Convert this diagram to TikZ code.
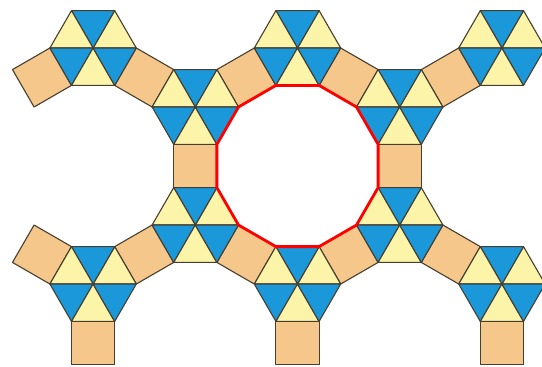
\documentclass[tikz,border=0pt]{standalone}
\usepackage{xcolor}
\usepackage{tikz}
\usetikzlibrary{calc}

\definecolor{triblue}{HTML}{1B98DA}
\definecolor{triyellow}{HTML}{FCF4A8}
\definecolor{sqtan}{HTML}{F6C78A}
\definecolor{edgegray}{HTML}{463F30}

\begin{document}
\begin{tikzpicture}[
    x=43.2pt, y=43.2pt,
    tile/.style      = {draw=edgegray, line width=1.1pt, line join=round},
    bluetri/.style   = {tile, fill=triblue},
    yellowtri/.style = {tile, fill=triyellow},
    sqtile/.style    = {tile, fill=sqtan},
    ring/.style      = {draw=red, line width=2.8pt, line join=round}
]
\useasboundingbox (-6.887,-4.630) rectangle (5.660,3.843);

%% Hexagon centres
\pgfmathsetmacro{\d}{1+sqrt(3)}
\pgfmathsetmacro{\h}{\d/2}
\coordinate (hT)  at (90:\d);
\coordinate (hUL) at (150:\d);
\coordinate (hUR) at (30:\d);
\coordinate (hLL) at (210:\d);
\coordinate (hLR) at (330:\d);
\coordinate (hB)  at (270:\d);
\coordinate (oTL) at (150:2*\d);
\coordinate (oTR) at (30:2*\d);
\coordinate (oBL) at (210:2*\d);
\coordinate (oBR) at (330:2*\d);

%% Squares
\foreach \c/\t in {hT/330, hT/210, hUL/150, hUL/270, hUR/30, hUR/270,
                   hLL/210, hLL/330, hLR/330, hLR/210,
                   oTL/210, oBL/150, oBL/270, hB/270, oBR/270}
  \draw[sqtile, shift={($(\c)+(\t:\h)$)}, rotate=\t]
    (-.5,-.5) -- (.5,-.5) -- (.5,.5) -- (-.5,.5) -- cycle;

%% Hexagons of six triangles
\foreach \c in {hT, hUL, hUR, hLL, hLR, hB, oTL, oTR, oBL, oBR}
  \foreach \k/\s in {0/yellowtri, 1/bluetri, 2/yellowtri, 3/bluetri, 4/yellowtri, 5/bluetri}
    \draw[\s, shift={(\c)}] (0,0) -- (60*\k:1) -- (60*\k+60:1) -- cycle;

%% Dodecagon
\draw[ring] (15:1.93185) \foreach \k in {1,...,11} {-- (15+30*\k:1.93185)} -- cycle;

\end{tikzpicture}
\end{document}
